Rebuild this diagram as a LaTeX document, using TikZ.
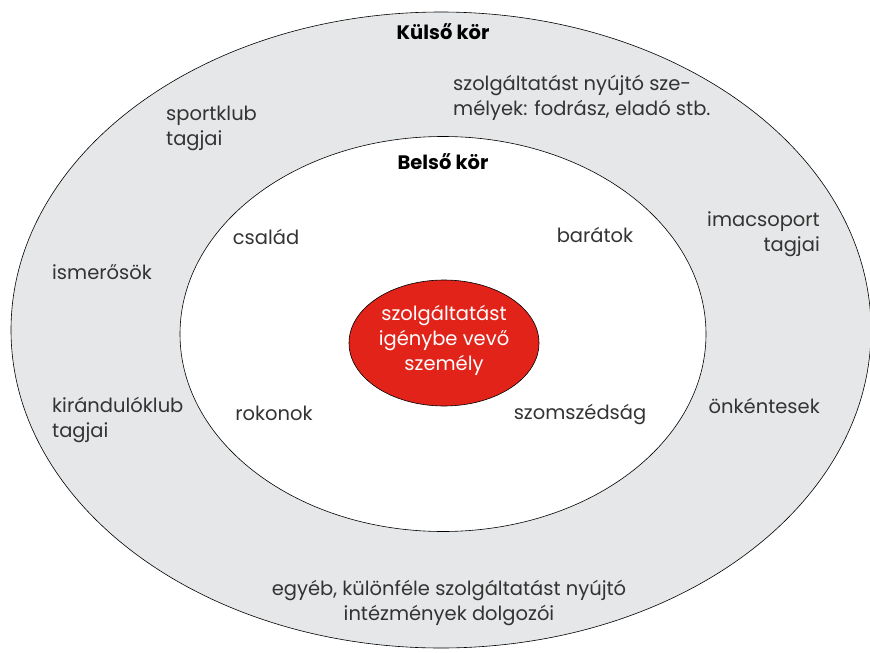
\documentclass[tikz,border=0pt]{standalone}
\usepackage{fontspec}
\setmainfont{Poppins}
\usetikzlibrary{positioning, shapes, calc}
\definecolor{ringgrau}{HTML}{E6E7E8}
\definecolor{kernrot}{HTML}{E2231A}
\definecolor{textgrau}{HTML}{333333}
\tikzset{
    ring/.style={
        ellipse,
        draw=black,          % Dünne schwarze Kontur
        line width=0.6pt,
        inner sep=0pt
    },
    eintrag/.style={
        text=textgrau,
        font=\fontsize{19.5}{25}\selectfont,
        inner sep=0pt
    },
    titel/.style={
        eintrag,
        text=black,
        font=\fontsize{19.5}{25}\selectfont\bfseries
    }
}
\begin{document}
\begin{tikzpicture}[x=1pt, y=-1pt]

    % Rahmen mit den Maßen der Vorlage
    \useasboundingbox (0,0) rectangle (870,653);

    % Äußerer Ring (grau)
    \node[ring, fill=ringgrau, minimum width=860, minimum height=636] (kulso) at (441,330) {};

    % Innerer Ring (weiß)
    \node[ring, fill=white, minimum width=526, minimum height=395] (belso) at (443,334) {};

    % Kern: die Person selbst
    \node[ring, fill=kernrot, minimum width=190, minimum height=126] (szemely) at (444,343) {};
    \node[eintrag, text=white, align=center] (szemelytext) at (444,340)
        {szolgáltatást\\igénybe vevő\\személy};

    % Überschriften
    \node[titel] (kulsocim) at (443,32) {Külső kör};
    \node[titel] (belsocim) at (443,162) {Belső kör};

    % Einträge im inneren Ring
    \node[eintrag] (csalad) at (266,237) {család};
    \node[eintrag] (baratok) at (595,235) {barátok};
    \node[eintrag] (rokonok) at (274,413) {rokonok};
    \node[eintrag] (szomszed) at (580,415) {szomszédság};

    % Einträge im äußeren Ring
    \node[eintrag, align=left, anchor=west] (szolg) at (453,98)
        {szolgáltatást nyújtó sze-\\mélyek: fodrász, eladó stb.};
    \node[eintrag, align=left, anchor=west] (sport) at (166,128) {sportklub\\tagjai};
    \node[eintrag, align=right, anchor=east] (ima) at (820,234) {imacsoport\\tagjai};
    \node[eintrag, anchor=west] (ismeros) at (52,272) {ismerősök};
    \node[eintrag, align=left, anchor=west] (kirand) at (52,420) {kirándulóklub\\tagjai};
    \node[eintrag, anchor=east] (onkentes) at (820,406) {önkéntesek};
    \node[eintrag, align=center] (egyeb) at (449,603)
        {egyéb, különféle szolgáltatást nyújtó\\intézmények dolgozói};

\end{tikzpicture}
\end{document}
